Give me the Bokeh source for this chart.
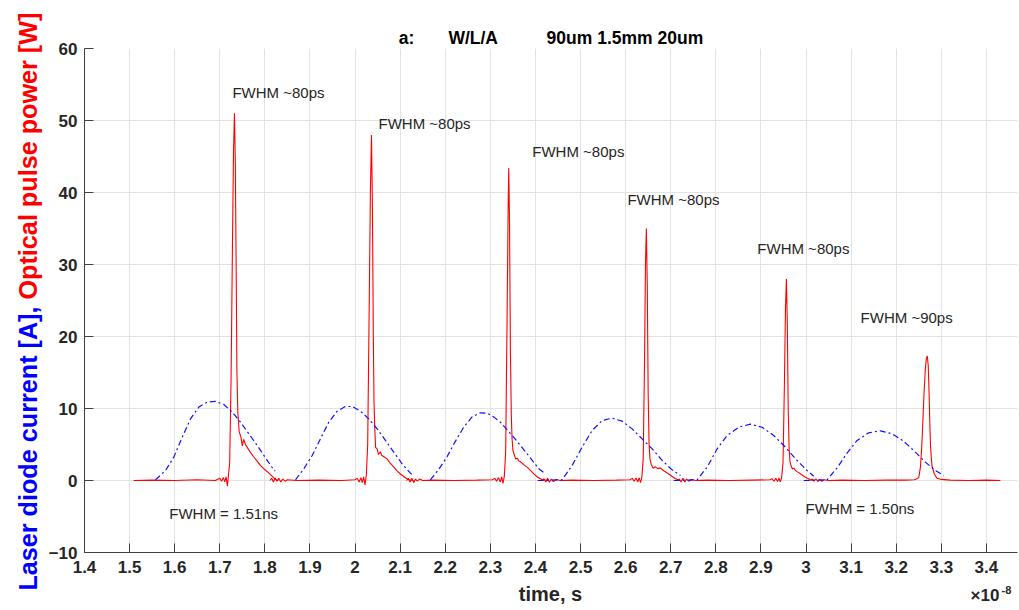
import math
from bokeh.plotting import figure
from bokeh.layouts import row, column
from bokeh.models import Range1d, FixedTicker
from bokeh.core.properties import value
from bokeh.embed import file_html
from bokeh.resources import INLINE

# ---------------- data (time in units of 1e-8 s) ----------------
x_ticks = [1.4, 1.5, 1.6, 1.7, 1.8, 1.9, 2.0, 2.1, 2.2, 2.3, 2.4, 2.5, 2.6, 2.7,
           2.8, 2.9, 3.0, 3.1, 3.2, 3.3, 3.4]
x_tick_labels = ["1.4", "1.5", "1.6", "1.7", "1.8", "1.9", "2", "2.1", "2.2", "2.3",
                 "2.4", "2.5", "2.6", "2.7", "2.8", "2.9", "3", "3.1", "3.2", "3.3", "3.4"]
y_ticks = [-10, 0, 10, 20, 30, 40, 50, 60]

# optical pulse power [W], six traces
red1_t = [1.509, 1.55, 1.60, 1.65, 1.69, 1.700, 1.704, 1.708, 1.711, 1.714, 1.717, 1.719,
          1.722, 1.725, 1.728, 1.7305, 1.7326, 1.7345, 1.7365, 1.738, 1.740, 1.743, 1.747,
          1.750, 1.753, 1.757, 1.762, 1.768, 1.775, 1.783, 1.790, 1.798, 1.808, 1.816,
          1.824, 1.830]
red1_p = [0, 0.05, 0, 0.1, 0, 0.3, -0.1, 0.4, -0.2, 0.5, -0.8, 0.6,
          2.5, 14, 32, 46, 51, 44, 28, 15, 9.5, 6.8, 6.0,
          4.8, 5.7, 5.0, 4.5, 3.9, 3.3, 2.7, 2.1, 1.6, 1.1, 0.6,
          0.1, 0.0]

red2_t = [1.811, 1.815, 1.819, 1.823, 1.827, 1.831, 1.835, 1.840, 1.845, 1.850, 1.87, 1.92,
          1.97, 2.000, 2.005, 2.009, 2.013, 2.016, 2.019, 2.022, 2.025, 2.028, 2.031, 2.034,
          2.0364, 2.0385, 2.0405, 2.042, 2.0435, 2.0455, 2.049, 2.052, 2.056, 2.059, 2.064,
          2.071, 2.078, 2.086, 2.093, 2.1007, 2.110, 2.119, 2.130]
red2_p = [0.0, 0.3, -0.2, 0.35, -0.1, 0.3, -0.2, 0.2, -0.1, 0.1, 0.0, 0.05,
          0.0, 0.1, 0.3, -0.2, 0.4, -0.3, 0.5, -0.6, 0.8, 5, 22, 40,
          48, 38, 20, 11, 7.6, 4.6, 4.4, 3.6, 4.0, 3.5, 3.3,
          3.0, 2.4, 1.85, 1.35, 0.9, 0.45, 0.1, 0.0]

red3_t = [2.114, 2.118, 2.122, 2.126, 2.130, 2.134, 2.138, 2.143, 2.150, 2.17, 2.22, 2.27,
          2.305, 2.310, 2.314, 2.318, 2.322, 2.325, 2.328, 2.331, 2.334, 2.337, 2.3395,
          2.3408, 2.3425, 2.3445, 2.3465, 2.348, 2.350, 2.353, 2.356, 2.360, 2.363, 2.367,
          2.374, 2.3816, 2.389, 2.3963, 2.405, 2.415, 2.430]
red3_p = [0.0, 0.3, -0.2, 0.3, -0.3, 0.2, -0.1, 0.2, 0.0, 0.05, 0.0, 0.05,
          0.1, 0.3, -0.1, 0.4, -0.2, 0.5, -0.4, 0.6, 4, 22, 38,
          43.4, 36, 18, 9, 6.0, 4.2, 3.6, 3.0, 3.1, 2.7, 2.6,
          2.2, 1.85, 1.4, 0.93, 0.45, 0.1, 0.0]

red4_t = [2.415, 2.419, 2.423, 2.427, 2.431, 2.435, 2.440, 2.446, 2.455, 2.48, 2.53, 2.58,
          2.61, 2.615, 2.619, 2.623, 2.627, 2.630, 2.633, 2.636, 2.639, 2.642, 2.644, 2.646,
          2.648, 2.650, 2.652, 2.654, 2.657, 2.661, 2.666, 2.671, 2.677, 2.6845, 2.6956,
          2.7104, 2.7215]
red4_p = [0.0, 0.25, -0.2, 0.3, -0.25, 0.2, -0.15, 0.15, 0.0, 0.05, 0.0, 0.05,
          0.1, 0.3, -0.1, 0.35, -0.2, 0.4, -0.3, 0.5, 3, 17, 30, 35,
          27, 12, 5, 3.0, 2.2, 1.7, 1.9, 1.65, 1.75, 1.35, 0.9,
          0.25, 0.0]

red5_t = [2.715, 2.719, 2.723, 2.727, 2.731, 2.735, 2.740, 2.746, 2.755, 2.78, 2.83, 2.88,
          2.92, 2.925, 2.929, 2.933, 2.937, 2.940, 2.943, 2.946, 2.949, 2.952, 2.9545,
          2.9565, 2.9585, 2.9605, 2.9625, 2.9645, 2.967, 2.970, 2.9735, 2.9765, 2.981,
          2.9876, 2.995, 3.0024, 3.010, 3.017]
red5_p = [0.0, 0.2, -0.2, 0.3, -0.2, 0.2, -0.1, 0.15, 0.0, 0.05, 0.0, 0.05,
          0.1, 0.25, -0.1, 0.3, -0.15, 0.35, -0.2, 0.4, 2.5, 13, 24,
          28, 22, 10, 4.5, 2.6, 2.0, 1.6, 1.7, 1.4, 1.2,
          0.93, 0.6, 0.35, 0.1, 0.0]

red6_t = [3.010, 3.014, 3.018, 3.022, 3.026, 3.030, 3.035, 3.041, 3.05, 3.08, 3.13, 3.18,
          3.22, 3.24, 3.245, 3.250, 3.2536, 3.2565, 3.259, 3.262, 3.2647, 3.267, 3.269,
          3.271, 3.273, 3.2745, 3.276, 3.278, 3.2795, 3.2845, 3.2906, 3.30, 3.32, 3.36,
          3.40, 3.431]
red6_p = [0.0, 0.2, -0.1, 0.25, -0.15, 0.15, -0.1, 0.1, 0.0, 0.05, 0.0, 0.05,
          0.05, 0.1, 0.2, 0.4, 1.8, 4.5, 8, 12.5, 15.5, 17, 17.3,
          16, 12, 8, 5, 3, 2, 0.9, 0.3, 0.15, 0.05, 0.0,
          0.05, 0.0]

# laser diode current [A], six pulses
blue1_t = [1.5574, 1.5796, 1.598, 1.6166, 1.635, 1.6535, 1.672, 1.690, 1.7089, 1.7275,
           1.746, 1.7643, 1.783, 1.8013, 1.8197, 1.823]
blue1_i = [0.1, 1.39, 3.24, 6.0, 8.56, 10.2, 10.9, 11.0, 10.55, 9.5,
           8.1, 6.5, 4.86, 3.15, 1.48, 1.3]

blue2_t = [1.8679, 1.8863, 1.9049, 1.9233, 1.9417, 1.9603, 1.9787, 1.9935, 2.012, 2.0304,
           2.049, 2.0674, 2.0858, 2.1044, 2.1228, 2.127]
blue2_i = [0.1, 1.62, 3.47, 5.8, 8.1, 9.63, 10.28, 10.28, 9.63, 8.56,
           7.18, 5.56, 3.94, 2.31, 1.02, 0.8]

blue3_t = [2.167, 2.185, 2.204, 2.222, 2.241, 2.259, 2.277, 2.293, 2.308, 2.3224, 2.352,
           2.3816, 2.4074, 2.422]
blue3_i = [0.1, 1.5, 3.3, 5.4, 7.4, 8.8, 9.4, 9.35, 8.8, 8.1, 6.0,
           3.7, 1.62, 0.93]

blue4_t = [2.405, 2.459, 2.4813, 2.5035, 2.5257, 2.5479, 2.57, 2.5922, 2.6144, 2.6366,
           2.6588, 2.681, 2.703, 2.7215]
blue4_i = [0.0, 0.1, 2.08, 4.63, 6.94, 8.33, 8.66, 8.24, 7.17, 5.78,
           4.4, 2.78, 1.48, 0.7]

blue5_t = [2.7067, 2.7585, 2.7807, 2.803, 2.825, 2.8508, 2.8767, 2.9026, 2.9284, 2.9543,
           2.9802, 3.0024, 3.017]
blue5_i = [0.0, 0.1, 1.85, 4.4, 6.25, 7.4, 7.82, 7.4, 6.25, 4.63,
           2.78, 1.39, 0.6]

blue6_t = [2.995, 3.0468, 3.069, 3.0911, 3.1133, 3.139, 3.165, 3.191, 3.2166, 3.2426,
           3.2647, 3.2869, 3.3053]
blue6_i = [0.0, 0.1, 1.76, 3.8, 5.56, 6.62, 6.9, 6.48, 5.46, 3.94,
           2.55, 1.39, 0.7]

pulse_notes = ["FWHM ~80ps", "FWHM ~80ps", "FWHM ~80ps", "FWHM ~80ps", "FWHM ~80ps", "FWHM ~90ps"]
pulse_note_x = [1.728, 2.052, 2.393, 2.604, 2.892, 3.121]
pulse_note_y = [53.9, 49.6, 45.7, 39.0, 32.2, 22.6]
current_notes = ["FWHM = 1.51ns", "FWHM = 1.50ns"]
current_note_x = [1.588, 2.999]
current_note_y = [-4.6, -3.9]

title_parts = ["a:", "W/L/A", "90um 1.5mm 20um"]
y_label_parts = ["Laser diode current [A],", "Optical pulse power [W]"]
x_label = "time, s"
x_exponent = ["\u00d710", "-8"]

# ---------------- layout ----------------
X0, X1 = 1.4, 3.469
Y0, Y1 = -10, 60
FONT = "Liberation Sans"
DARK = "#262626"
LW = 45          # width of left label strip
BH = 28          # height of bottom label strip
W, H = 1019, 610
MW, MH = W - LW, H - BH
FL, FR = 84, 1017   # page x of the plot frame

p = figure(width=MW, height=MH, x_range=Range1d(X0, X1), y_range=Range1d(Y0, Y1),
           output_backend="svg", toolbar_location=None,
           min_border_left=FL - LW, min_border_right=W - FR, min_border_top=48,
           min_border_bottom=MH - 552)
p.outline_line_color = None

nb = "\u00a0"
p.title.text = title_parts[0] + nb * 7 + title_parts[1] + nb * 10 + title_parts[2]
p.title.align = "center"
p.title.text_font = FONT
p.title.text_font_size = "17.5px"
p.title.text_font_style = "bold"
p.title.text_color = "#000000"
p.title.standoff = 2

p.xaxis.ticker = FixedTicker(ticks=x_ticks)
p.xaxis.major_label_overrides = {t: s for t, s in zip(x_ticks, x_tick_labels)}
p.yaxis.ticker = FixedTicker(ticks=y_ticks)

for ax in (p.xaxis[0], p.yaxis[0]):
    ax.axis_line_color = "#404040"
    ax.axis_line_width = 1
    ax.major_tick_line_color = "#404040"
    ax.major_tick_in = 9
    ax.major_tick_out = 0
    ax.minor_tick_line_color = None
    ax.major_label_text_font = FONT
    ax.major_label_text_font_style = "bold"
    ax.major_label_text_font_size = "17px"
    ax.major_label_text_color = DARK

p.xaxis.major_label_standoff = 8
p.yaxis.major_label_standoff = 7

p.xgrid.ticker = FixedTicker(ticks=x_ticks)
p.ygrid.ticker = FixedTicker(ticks=y_ticks)
p.grid.grid_line_color = "#e3e3e3"
p.grid.grid_line_width = 1

red_sets = [(red1_t, red1_p), (red2_t, red2_p), (red3_t, red3_p),
            (red4_t, red4_p), (red5_t, red5_p), (red6_t, red6_p)]
blue_sets = [(blue1_t, blue1_i), (blue2_t, blue2_i), (blue3_t, blue3_i),
             (blue4_t, blue4_i), (blue5_t, blue5_i), (blue6_t, blue6_i)]

for t, v in red_sets:
    p.line(t, v, line_color="#ff0000", line_width=1.1)
for t, v in blue_sets:
    p.line(t, v, line_color="#1010ff", line_width=1.2, line_dash="6 3 2 3")

p.text(x=pulse_note_x, y=pulse_note_y, text=pulse_notes, text_font=value(FONT),
       text_font_size="15px", text_color=DARK, text_align="left", text_baseline="middle")
p.text(x=current_note_x, y=current_note_y, text=current_notes, text_font=value(FONT),
       text_font_size="15px", text_color=DARK, text_align="left", text_baseline="middle")

# left strip: two-colour y label (coordinates in page pixels)
left = figure(width=LW, height=H, x_range=Range1d(0, LW), y_range=Range1d(H, 0),
              output_backend="svg", toolbar_location=None,
              min_border_left=0, min_border_right=0, min_border_top=0, min_border_bottom=0)
left.axis.visible = False
left.grid.visible = False
left.outline_line_color = None
left.text(x=[27], y=[306], text=[y_label_parts[0]], angle=math.pi / 2,
          text_font=value(FONT), text_font_size="25.2px", text_font_style="bold",
          text_color="#0000ff", text_align="right", text_baseline="middle")
left.text(x=[27], y=[299], text=[y_label_parts[1]], angle=math.pi / 2,
          text_font=value(FONT), text_font_size="25.2px", text_font_style="bold",
          text_color="#ff0000", text_align="left", text_baseline="middle")

# bottom strip: x label and exponent (x in page pixels over the frame width)
bottom = figure(width=MW, height=BH, x_range=Range1d(FL, FR), y_range=Range1d(H, MH),
                output_backend="svg", toolbar_location=None,
                min_border_left=FL - LW, min_border_right=W - FR,
                min_border_top=0, min_border_bottom=0)
bottom.axis.visible = False
bottom.grid.visible = False
bottom.outline_line_color = None
bottom.text(x=[550], y=[593], text=[x_label], text_font=value(FONT),
            text_font_size="20px", text_font_style="bold", text_color=DARK,
            text_align="center", text_baseline="middle")
bottom.text(x=[970], y=[595], text=[x_exponent[0]], text_font=value(FONT),
            text_font_size="17px", text_font_style="bold", text_color=DARK,
            text_align="left", text_baseline="middle")
bottom.text(x=[1001], y=[589], text=[x_exponent[1]], text_font=value(FONT),
            text_font_size="11px", text_font_style="bold", text_color=DARK,
            text_align="left", text_baseline="middle")

layout = row(left, column(p, bottom, spacing=0), spacing=0)
open("out.html", "w").write(file_html(layout, INLINE))
